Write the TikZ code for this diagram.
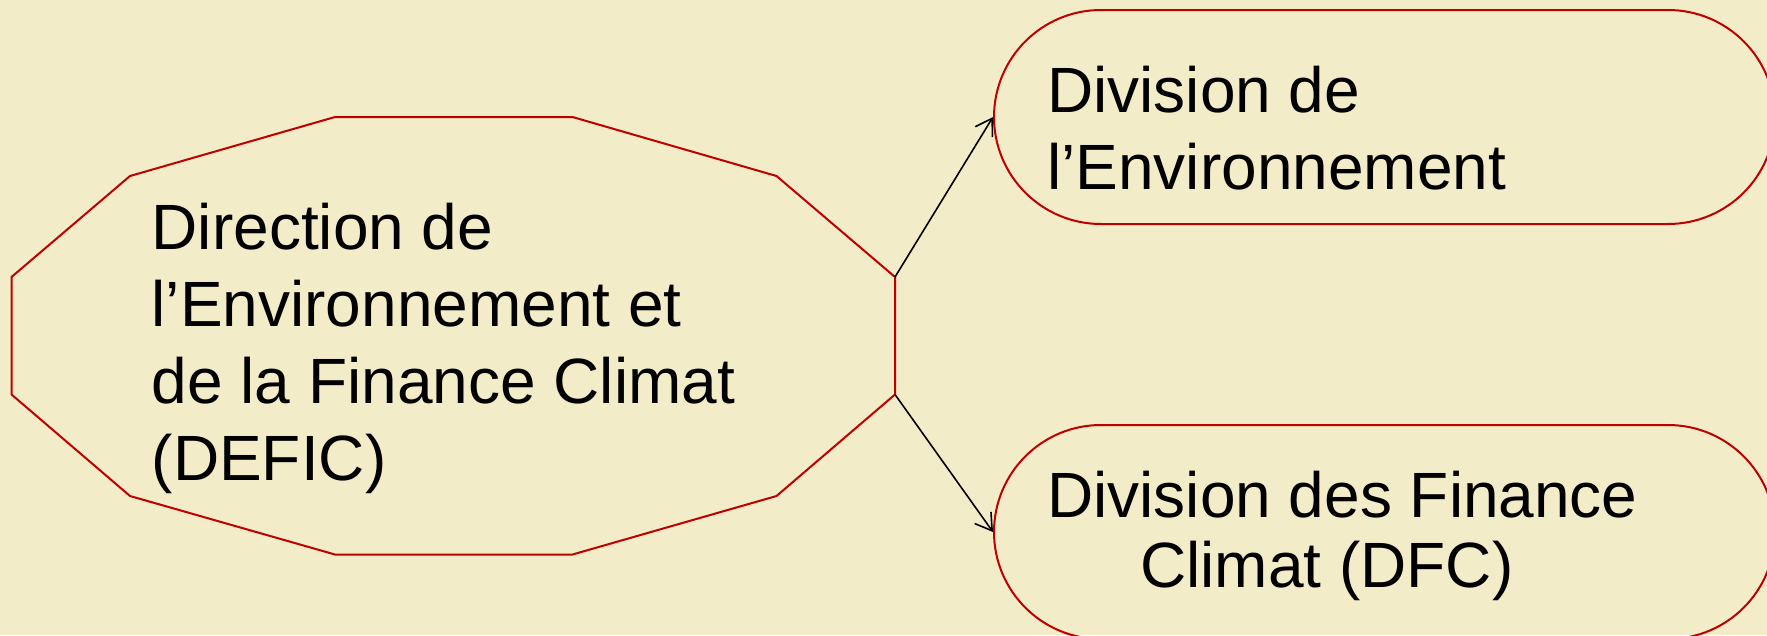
\documentclass[tikz,border=0pt]{standalone}
\usepackage{fontspec}
\setmainfont{Liberation Sans}
\usetikzlibrary{arrows.meta}
\definecolor{bg}{RGB}{242,236,200}
\definecolor{frame}{RGB}{192,0,0}
\tikzset{
  label text/.style={anchor=base west, inner sep=0pt, align=left, font=\fontsize{64}{77}\selectfont},
  pill/.style={draw=frame, line width=2pt, rounded corners=107pt, minimum width=781pt, minimum height=214pt, inner sep=0pt},
  link/.style={draw=black, line width=1.6pt, -{Straight Barb[length=16pt,width=20pt,line width=1.6pt]}}
}
\begin{document}
\begin{tikzpicture}[x=1pt,y=-1pt]
\fill[bg] (0,0) rectangle (1767,635);
\useasboundingbox (0,0) rectangle (1767,635);
\begin{scope}
\clip (0,0) rectangle (1767,635);
% dodecagon
\coordinate (p1) at (11.5,277);
\coordinate (p2) at (130,176);
\coordinate (p3) at (335,117);
\coordinate (p4) at (572.5,117);
\coordinate (p5) at (776.5,176);
\coordinate (p6) at (895,277);
\coordinate (p7) at (895,394.5);
\coordinate (p8) at (776.5,496);
\coordinate (p9) at (572.5,554.5);
\coordinate (p10) at (335,554.5);
\coordinate (p11) at (130,496);
\coordinate (p12) at (11.5,394.5);
\draw[frame, line width=2pt, line join=miter] (p1)--(p2)--(p3)--(p4)--(p5)--(p6)--(p7)--(p8)--(p9)--(p10)--(p11)--(p12)--cycle;
\node[label text] (dtext) at (151.5,480) {Direction de\\l’Environnement et\\de la Finance Climat\\(DEFIC)};
% boxes
\node[pill] (top) at (1384.5,117) {};
\node[pill] (bot) at (1384.5,532) {};
\node[label text] (ttext) at (1047,189) {Division de\\l’Environnement};
\node[label text] (btext) at (1047,587) {Division des Finance\\[-7pt]\hspace*{93pt}Climat (DFC)};
% connectors
\draw[link] (p6) -- (top.west);
\draw[link] (p7) -- (bot.west);
\end{scope}
\end{tikzpicture}
\end{document}
